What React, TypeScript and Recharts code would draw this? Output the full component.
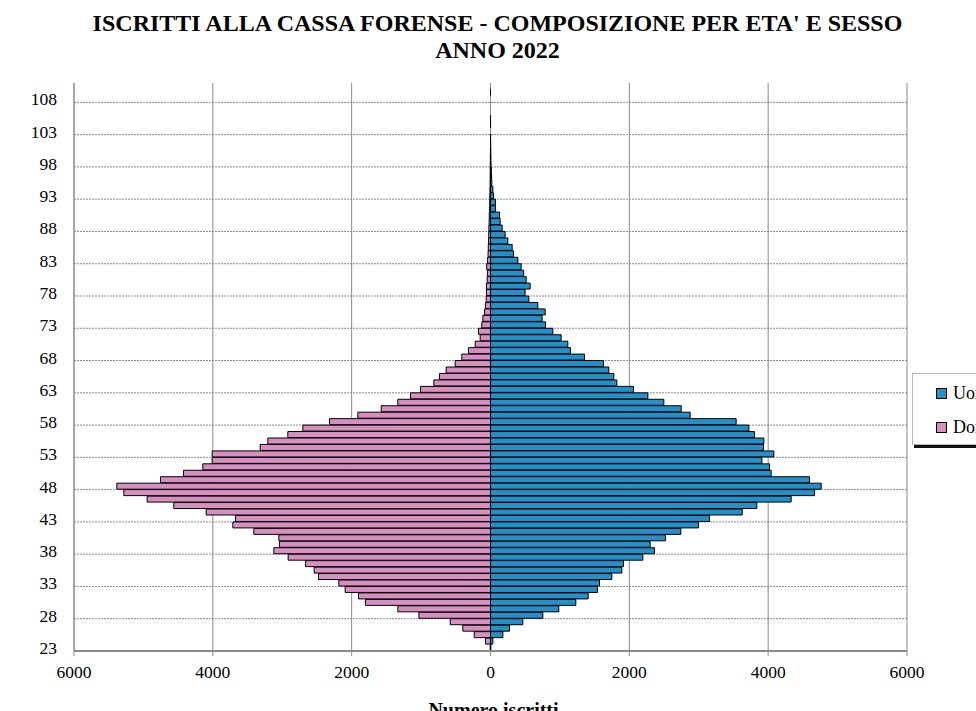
import React from 'react';
import { BarChart, Bar, XAxis, YAxis, CartesianGrid, Legend } from 'recharts';

// Età (categorie)
const ETA = [
  23, 24, 25, 26, 27, 28, 29, 30, 31, 32, 33, 34, 35, 36, 37, 38, 39, 40, 41, 42,
  43, 44, 45, 46, 47, 48, 49, 50, 51, 52, 53, 54, 55, 56, 57, 58, 59, 60, 61, 62,
  63, 64, 65, 66, 67, 68, 69, 70, 71, 72, 73, 74, 75, 76, 77, 78, 79, 80, 81, 82,
  83, 84, 85, 86, 87, 88, 89, 90, 91, 92, 93, 94, 95, 96, 97, 98, 99, 100, 101, 102,
  103, 104, 105, 106, 107, 108, 109, 110,
];

// Uomini iscritti per età
const UOMINI = [
  5, 34, 178, 274, 466, 754, 984, 1229, 1407, 1541, 1570, 1748, 1892, 1916, 2195, 2363, 2300, 2521, 2742, 2996,
  3155, 3626, 3837, 4331, 4668, 4764, 4596, 4043, 4019, 3910, 4082, 3933, 3938, 3803, 3722, 3539, 2876, 2747, 2497, 2267,
  2060, 1820, 1777, 1705, 1628, 1354, 1152, 1114, 1018, 898, 792, 744, 788, 682, 552, 499, 571, 514, 477, 442,
  394, 331, 312, 250, 211, 168, 139, 130, 72, 72, 43, 34, 20, 15, 12, 8, 6, 5, 3, 2,
  0, 1, 1, 0, 0, 0, 1, 0,
];

// Donne iscritte per età
const DONNE = [
  5, 72, 235, 399, 580, 1032, 1335, 1801, 1902, 2094, 2185, 2478, 2540, 2665, 2915, 3121, 3040, 3049, 3409, 3712,
  3674, 4096, 4562, 4946, 5282, 5383, 4754, 4423, 4144, 4010, 4010, 3318, 3208, 2920, 2703, 2319, 1911, 1575, 1335, 1153,
  1008, 816, 735, 639, 509, 413, 317, 221, 149, 173, 125, 110, 86, 72, 62, 58, 58, 48, 45, 55,
  42, 35, 32, 28, 26, 24, 20, 18, 15, 12, 10, 8, 6, 5, 4, 3, 2, 1, 0, 0,
  0, 0, 0, 0, 0, 0, 0, 0,
];

const TICK_ETA = [23, 28, 33, 38, 43, 48, 53, 58, 63, 68, 73, 78, 83, 88, 93, 98, 103, 108];
const X_TICKS = [-6000, -4000, -2000, 0, 2000, 4000, 6000];
const SERIES_ORDER = ['Uomini', 'Donne'];

const BLUE = '#2590C8';
const PINK = '#D690C0';
const GRID = '#8a8a8a';
const FONT = '"Liberation Serif", "Times New Roman", Times, serif';

const data = ETA.map((eta, i) => ({
  eta: String(eta),
  Uomini: UOMINI[i],
  Donne: -DONNE[i],
}));

const MARGIN = { top: 83, right: 69, bottom: 20, left: 0 };
const W = 976;
const H = 711;
const X_AXIS_H = 40;
const Y_AXIS_W = 74;

const hGrid = (args: any) => {
  const off = args && args.offset;
  const top = off && typeof off.top === 'number' ? off.top : MARGIN.top;
  const height =
    off && typeof off.height === 'number' ? off.height : H - MARGIN.top - MARGIN.bottom - X_AXIS_H;
  const band = height / ETA.length;
  return TICK_ETA.map((a) => top + (ETA.length - ETA.indexOf(a)) * band);
};

const XTick = (props: any) => {
  const { x, y, payload } = props;
  return (
    <text
      x={x}
      y={y}
      dy="0.71em"
      textAnchor="middle"
      fill="#000"
      style={{ fontFamily: FONT, fontSize: 17.5 }}
    >
      {String(Math.abs(Number(payload.value)))}
    </text>
  );
};

const YTick = (props: any) => {
  const { x, y, payload } = props;
  return (
    <text
      x={x}
      y={y}
      dy="0.355em"
      textAnchor="end"
      fill="#000"
      style={{ fontFamily: FONT, fontSize: 17.5 }}
    >
      {payload.value}
    </text>
  );
};

const LegendBox = (props: any) => {
  const payload = [...(props.payload || [])].sort(
    (a: any, b: any) => SERIES_ORDER.indexOf(a.value) - SERIES_ORDER.indexOf(b.value)
  );
  return (
    <div
      style={{
        width: 120,
        height: 72,
        border: '1px solid #b8b8b8',
        background: '#fff',
        boxShadow: '2px 3px 0 #111',
        boxSizing: 'border-box',
        fontFamily: FONT,
        fontSize: 18,
        color: '#000',
        paddingTop: 2,
      }}
    >
      {payload.map((p: any) => (
        <div key={p.value} style={{ display: 'flex', alignItems: 'center', height: 34, paddingLeft: 23 }}>
          <span
            style={{
              display: 'inline-block',
              width: 9,
              height: 9,
              background: p.color,
              border: '1px solid #000',
              marginRight: 6,
            }}
          />
          <span>{p.value}</span>
        </div>
      ))}
    </div>
  );
};

export default function App() {
  return (
    <div
      style={{
        position: 'absolute',
        left: 0,
        top: 0,
        width: W,
        height: H,
        overflow: 'hidden',
        background: '#fff',
      }}
    >
      <div
        style={{
          position: 'absolute',
          left: 0,
          top: 10,
          width: 995,
          textAlign: 'center',
          fontFamily: FONT,
          fontWeight: 'bold',
          fontSize: 24,
          lineHeight: '26.7px',
          color: '#000',
          zIndex: 2,
        }}
      >
        <div>ISCRITTI ALLA CASSA FORENSE - COMPOSIZIONE PER ETA' E SESSO</div>
        <div>ANNO 2022</div>
      </div>
      <div style={{ position: 'absolute', left: 0, top: 0 }}>
        <BarChart
          width={W}
          height={H}
          data={data}
          layout="vertical"
          margin={MARGIN}
          barCategoryGap={0}
          barGap={0}
          stackOffset="sign"
        >
          <CartesianGrid horizontal={false} vertical={true} stroke={GRID} strokeWidth={1} />
          <CartesianGrid
            horizontal={true}
            vertical={false}
            stroke={GRID}
            strokeWidth={1}
            strokeDasharray="2 1"
            horizontalCoordinatesGenerator={hGrid}
          />
          <XAxis
            type="number"
            domain={[-6000, 6000]}
            ticks={X_TICKS}
            height={X_AXIS_H}
            axisLine={{ stroke: GRID, strokeWidth: 2 }}
            tickLine={{ stroke: GRID }}
            tickSize={5}
            tickMargin={10}
            tick={<XTick />}
            allowDataOverflow
          />
          <YAxis
            type="category"
            dataKey="eta"
            reversed
            width={Y_AXIS_W}
            interval={4}
            axisLine={{ stroke: GRID, strokeWidth: 1 }}
            tickLine={false}
            tickSize={6}
            tickMargin={11}
            tick={<YTick />}
          />
          <Legend
            layout="vertical"
            align="center"
            verticalAlign="middle"
            itemSorter={null as any}
            content={LegendBox}
            wrapperStyle={{ position: 'absolute', left: 912, top: 373, width: 120, height: 72 }}
          />
          <Bar dataKey="Uomini" name="Uomini" stackId="a" fill={BLUE} stroke="#000" strokeWidth={1} isAnimationActive={false} />
          <Bar dataKey="Donne" name="Donne" stackId="a" fill={PINK} stroke="#000" strokeWidth={1} isAnimationActive={false} />
        </BarChart>
      </div>
      <div
        style={{
          position: 'absolute',
          left: 0,
          top: 699,
          width: 987,
          textAlign: 'center',
          fontFamily: FONT,
          fontWeight: 'bold',
          fontSize: 20,
          lineHeight: '23px',
          color: '#000',
        }}
      >
        Numero iscritti
      </div>
    </div>
  );
}
